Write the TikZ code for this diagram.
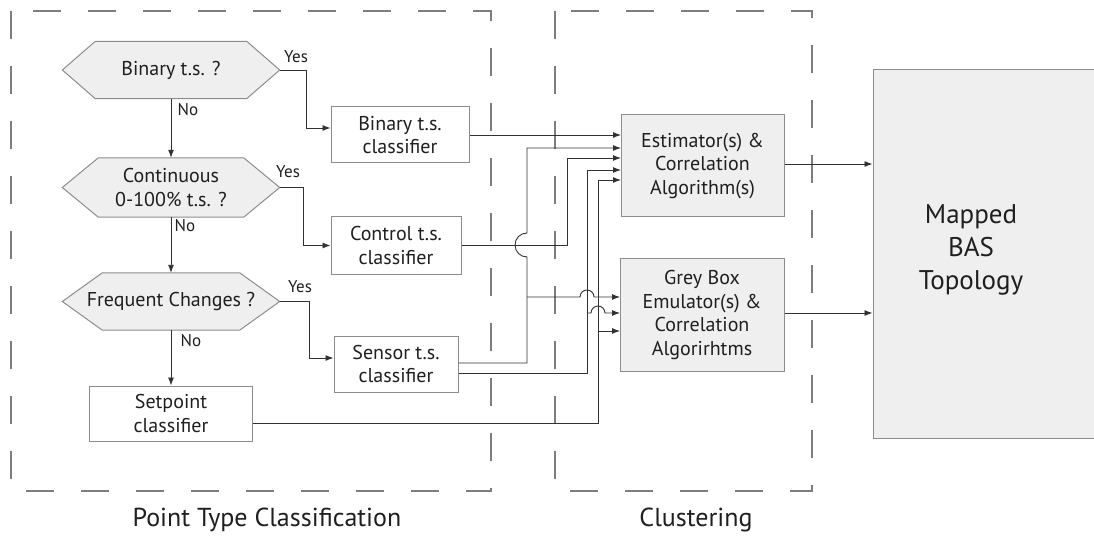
\documentclass[tikz,border=0pt]{standalone}
\usepackage{fontspec}
\setmainfont{PT Sans}
\usetikzlibrary{arrows.meta,backgrounds}

\definecolor{boxfill}{RGB}{239,239,239}
\definecolor{boxline}{RGB}{140,140,140}
\definecolor{linegray}{RGB}{50,50,50}
\definecolor{dashgray}{RGB}{125,125,125}

% hexagon behind a decision node: node name, slant
\newcommand{\hexshape}[2]{\draw[hexfill] (#1.west) -- ([xshift=#2]#1.north west) -- ([xshift=-#2]#1.north east) -- (#1.east) -- ([xshift=-#2]#1.south east) -- ([xshift=#2]#1.south west) -- cycle;}

\begin{document}
\begin{tikzpicture}[x=1pt,y=1pt,yscale=-1,
  every node/.style={text=black!88},
  clsbox/.style={draw=boxline,line width=1pt,fill=white,align=center,inner sep=0pt,font=\fontsize{20}{23.5}\selectfont},
  algbox/.style={clsbox,fill=boxfill},
  hexnode/.style={inner sep=0pt,align=center,font=\fontsize{20}{23.5}\selectfont},
  hexfill/.style={draw=boxline,line width=1pt,fill=boxfill},
  conn/.style={draw=linegray,line width=0.9pt,-{Latex[length=8pt,width=6pt]}},
  wireline/.style={draw=linegray,line width=0.9pt},
  yesno/.style={font=\fontsize{17}{20}\selectfont},
  grouplbl/.style={font=\fontsize{26}{30}\selectfont},
  dashbox/.style={draw=dashgray,line width=1.1pt,dash pattern=on 28pt off 27pt}]
\useasboundingbox (0,0) rectangle (1094,537);

%Shape: Dashed groups
\draw[dashbox] (11,11) rectangle (491,491);
\draw[dashbox] (555,11) rectangle (812,491);

% Decision Nodes
\node[hexnode,minimum width=217pt,minimum height=57pt] (bq) at (171,70) {Binary t.s. ?};
\node[hexnode,minimum width=217pt,minimum height=59pt] (cq) at (171,187.5) {Continuous\\0-100\% t.s. ?};
\node[hexnode,minimum width=217pt,minimum height=57pt] (fq) at (171,301.5) {Frequent Changes ?};
\begin{scope}[on background layer]
\hexshape{bq}{33pt}
\hexshape{cq}{36pt}
\hexshape{fq}{40pt}
\end{scope}

% Classifier Nodes
\node[clsbox,minimum width=138pt,minimum height=56pt] (bcls) at (400,135) {Binary t.s.\\classifier};
\node[clsbox,minimum width=130pt,minimum height=57pt] (ccls) at (396,245.5) {Control t.s.\\classifier};
\node[clsbox,minimum width=124pt,minimum height=56pt] (scls) at (396,364) {Sensor t.s.\\classifier};
\node[clsbox,minimum width=163pt,minimum height=55pt] (spcls) at (171,413.5) {Setpoint\\classifier};

% Clustering Nodes
\node[algbox,minimum width=163pt,minimum height=102pt] (est) at (702.5,166) {Estimator(s) \&\\Correlation\\Algorithm(s)};
\node[algbox,minimum width=164pt,minimum height=112pt] (grey) at (702,315) {Grey Box\\Emulator(s) \&\\Correlation\\Algorirhtms};
\node[algbox,minimum width=223pt,minimum height=368pt] (bas) at (984.5,254) {};
\node[font=\fontsize{27}{33}\selectfont,align=center,inner sep=0pt] (bastxt) at (971,250) {Mapped\\BAS\\Topology};

% Inputs of the clustering boxes
\coordinate (e1) at (621,135);
\coordinate (e2) at (621,148);
\coordinate (e3) at (621,158);
\coordinate (e4) at (621,170);
\coordinate (e5) at (621,180);
\coordinate (g1) at (620,297);
\coordinate (g2) at (620,313);
\coordinate (g3) at (620,331);

% Decision flow
\draw[conn] (bq.south) -- (cq.north);
\draw[conn] (cq.south) -- (fq.north);
\draw[conn] (fq.south) -- (spcls.north);
\draw[conn] (bq.east) -- ++(27,0) |- ([yshift=-7pt]bcls.west);
\draw[conn] (cq.east) -- ++(24,0) |- (ccls.west);
\draw[conn] (fq.east) -- ++(30,0) |- ([yshift=-6pt]scls.west);

% Text Node
\node[yesno] (y1) at (296,57) {Yes};
\node[yesno] (y2) at (288,172) {Yes};
\node[yesno] (y3) at (300,287) {Yes};
\node[yesno] (n1) at (188,110) {No};
\node[yesno] (n2) at (185,226) {No};
\node[yesno] (n3) at (191,341) {No};

% Classifier outputs
\draw[conn] (bcls.east) -- (e1);
\draw[conn] (ccls.east) -- ++(106,0) |- (e3);
\draw[conn] ([yshift=-1pt]scls.east) -- (527,363) -- (527,257) arc[start angle=90,end angle=270,radius=12] |- (e2);
\draw[conn] ([yshift=9pt]scls.east) -- (587,373) |- (e4);
\draw[conn] ([yshift=9.5pt]spcls.east) -- (598,423) |- (e5);
\draw[conn] (527,297) -- (580,297) arc[start angle=180,end angle=360,radius=7] -- (g1);
\draw[conn] (587,313) -- (591,313) arc[start angle=180,end angle=360,radius=7] -- (g2);
\draw[conn] (598,331) -- (g3);

% To topology
\draw[conn] ([yshift=-2pt]est.east) -- ([yshift=-2pt]est.east -| bas.west);
\draw[conn] ([yshift=-2pt]grey.east) -- ([yshift=-2pt]grey.east -| bas.west);

% Group labels
\node[grouplbl] (ptc) at (267,520) {Point Type Classification};
\node[grouplbl] (clu) at (696,520) {Clustering};

\end{tikzpicture}
\end{document}
